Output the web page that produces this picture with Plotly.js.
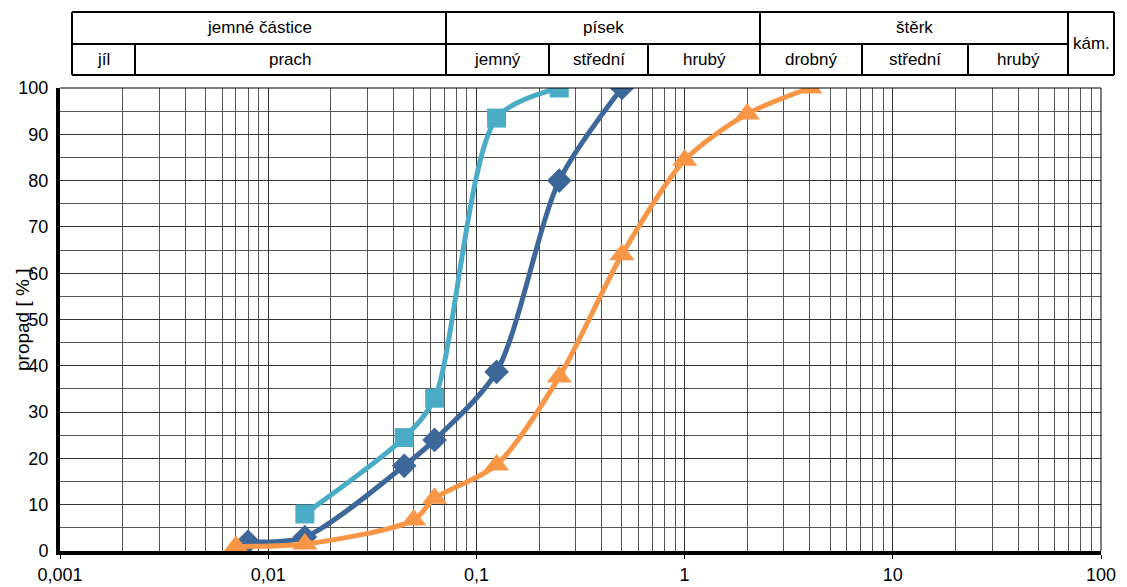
<!DOCTYPE html>
<html>
<head>
<meta charset="utf-8">
<script src="https://cdn.plot.ly/plotly-3.0.1.min.js"></script>
<style>html,body{margin:0;padding:0;background:#fff;}#chart{width:1127px;height:587px;}</style>
</head>
<body>
<div id="chart"></div>
<script>
// Grain sizes (mm) and passing percentages
const sizesA = [0.015, 0.045, 0.063, 0.125, 0.25];
const passA  = [8, 24.5, 33, 93.5, 100];

const sizesB = [0.008, 0.015, 0.045, 0.063, 0.125, 0.25, 0.5];
const passB  = [2, 3, 18.4, 24, 38.7, 80, 100];

const sizesC = [0.007, 0.015, 0.05, 0.063, 0.125, 0.25, 0.5, 1, 2, 4];
const passC  = [1, 1.5, 6.7, 11.4, 18.6, 37.6, 64, 84.4, 94.4, 100];

const xTickVals = [0.001, 0.01, 0.1, 1, 10, 100];
const xTickText = ['0,001', '0,01', '0,1', '1', '10', '100'];

// Classification header
const headRow1 = ['jemné částice', 'písek', 'štěrk'];
const headRow2 = ['jíl', 'prach', 'jemný', 'střední', 'hrubý', 'drobný', 'střední', 'hrubý'];
const headSide = 'kám.';

const font = 'Liberation Sans, Arial, sans-serif';

const traces = [
  {x: sizesA, y: passA, mode: 'lines+markers', line: {color: '#4BACC6', width: 5, shape: 'spline', smoothing: 0.8},
   marker: {symbol: 'square', size: 19, color: '#4BACC6'}},
  {x: sizesB, y: passB, mode: 'lines+markers', line: {color: '#3D6699', width: 5, shape: 'spline', smoothing: 0.8},
   marker: {symbol: 'diamond', size: 19, color: '#3D6699'}},
  {x: sizesC, y: passC, mode: 'lines+markers', line: {color: '#F79646', width: 5, shape: 'spline', smoothing: 0.8},
   marker: {symbol: 'triangle-up', size: 22, color: '#F79646'}}
];

// Pixel layout of header table (converted to paper coords)
const L = 60, R = 1101, T = 88, B = 551;
const px = v => (v - L) / (R - L);
const py = v => (B - v) / (B - T);
const tTop = 12, tMid = 44, tBot = 75, tLeft = 72, tRight = 1114;
const row1Edges = [72, 446, 760, 1068];
const row2Edges = [72, 135, 446, 549, 648, 760, 862, 968, 1068];

const shapes = [];
const lineStyle = {color: '#000', width: 2};
function hline(x0, x1, y) { shapes.push({type: 'line', xref: 'paper', yref: 'paper', x0: px(x0), x1: px(x1), y0: py(y), y1: py(y), line: lineStyle}); }
function vline(x, y0, y1) { shapes.push({type: 'line', xref: 'paper', yref: 'paper', x0: px(x), x1: px(x), y0: py(y0), y1: py(y1), line: lineStyle}); }
hline(tLeft, tRight, tTop);
hline(tLeft, 1068, tMid);
hline(tLeft, tRight, tBot);
vline(tLeft, tTop, tBot);
vline(tRight, tTop, tBot);
[446, 760, 1068].forEach(x => vline(x, tTop, tBot));
[135, 549, 648, 862, 968].forEach(x => vline(x, tMid, tBot));
// plot frame thin lines top/right
shapes.push({type: 'line', xref: 'paper', yref: 'paper', x0: 0, x1: 1, y0: 1, y1: 1, line: {color: '#000', width: 1}});
shapes.push({type: 'line', xref: 'paper', yref: 'paper', x0: 1, x1: 1, y0: 0, y1: 1, line: {color: '#000', width: 1}});

const annotations = [];
function label(text, x0, x1, y0, y1) {
  annotations.push({text: text, xref: 'paper', yref: 'paper', x: px((x0 + x1) / 2), y: py((y0 + y1) / 2),
    xanchor: 'center', yanchor: 'middle', showarrow: false, font: {family: font, size: 17, color: '#000'}});
}
headRow1.forEach((t, i) => label(t, row1Edges[i], row1Edges[i + 1], tTop, tMid));
headRow2.forEach((t, i) => label(t, row2Edges[i], row2Edges[i + 1], tMid, tBot));
label(headSide, 1068, tRight, tTop, tBot);
annotations.push({text: 'propad [ % ]', xref: 'paper', yref: 'paper', x: px(22), y: py(320), textangle: -90,
  xanchor: 'center', yanchor: 'middle', showarrow: false, font: {family: font, size: 19, color: '#000'}});

const layout = {
  width: 1127, height: 587,
  margin: {l: L, r: 1127 - R, t: T, b: 587 - B},
  paper_bgcolor: '#fff', plot_bgcolor: '#fff',
  showlegend: false,
  font: {family: font, size: 18, color: '#000'},
  xaxis: {
    type: 'log', range: [-3, 2], tickvals: xTickVals, ticktext: xTickText,
    showgrid: true, gridcolor: '#333', gridwidth: 1,
    minor: {dtick: 'D1', showgrid: true, gridcolor: '#555', gridwidth: 1, ticks: ''},
    showline: true, linecolor: '#000', linewidth: 4,
    ticks: 'outside', ticklen: 4, tickcolor: '#000', tickwidth: 1,
    zeroline: false, tickfont: {family: font, size: 18, color: '#000'}
  },
  yaxis: {
    range: [0, 100], dtick: 10, tick0: 0,
    showgrid: true, gridcolor: '#333', gridwidth: 1,
    minor: {dtick: 5, showgrid: true, gridcolor: '#555', gridwidth: 1},
    showline: true, linecolor: '#000', linewidth: 4,
    ticks: '', zeroline: false, ticklabelstandoff: 4,
    tickfont: {family: font, size: 18, color: '#000'}
  },
  shapes: shapes,
  annotations: annotations
};

Plotly.newPlot('chart', traces, layout, {displayModeBar: false, staticPlot: true});
</script>
</body>
</html>
